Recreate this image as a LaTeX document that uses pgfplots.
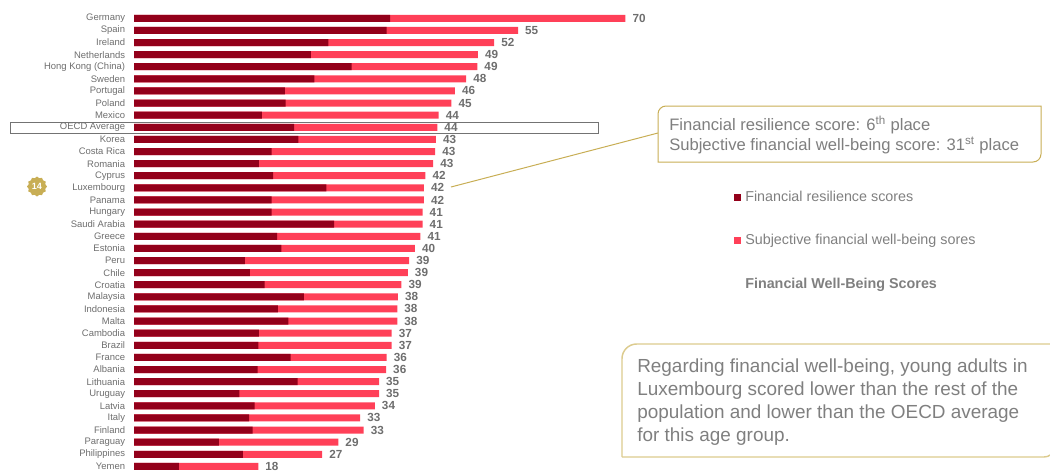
\documentclass[border=0pt]{standalone}
\usepackage{pgfplots}
\pgfplotsset{compat=1.18}
\usepackage{pgfplotstable}
\usepackage{fontspec}
\setmainfont{Liberation Sans}
\usetikzlibrary{shapes.geometric}

\definecolor{resil}{HTML}{93001A}
\definecolor{subj}{HTML}{FF4058}
\definecolor{txtgrey}{HTML}{7F7F7F}
\definecolor{labgrey}{HTML}{6E6E6E}
\definecolor{gold}{HTML}{C8AE55}
\definecolor{goldlight}{HTML}{DCCB8E}

\pgfplotstableread[col sep=comma]{
name,resil,subj,total
Germany,36.5,33.5,70
Spain,36.0,18.7,55
Ireland,27.7,23.6,52
Netherlands,25.2,23.8,49
Hong Kong (China),31.0,17.9,49
Sweden,25.7,21.6,48
Portugal,21.5,24.2,46
Poland,21.6,23.6,45
Mexico,18.2,25.2,44
OECD Average,22.8,20.4,44
Korea,23.4,19.6,43
Costa Rica,19.6,23.3,43
Romania,17.8,24.8,43
Cyprus,19.8,21.7,42
Luxembourg,27.4,13.9,42
Panama,19.6,21.7,42
Hungary,19.6,21.5,41
Saudi Arabia,28.5,12.6,41
Greece,20.4,20.4,41
Estonia,21.0,19.0,40
Peru,15.8,23.4,39
Chile,16.5,22.5,39
Croatia,18.6,19.5,39
Malaysia,24.2,13.4,38
Indonesia,20.5,17.0,38
Malta,22.0,15.5,38
Cambodia,17.8,18.9,37
Brazil,17.7,19.0,37
France,22.3,13.7,36
Albania,17.6,18.3,36
Lithuania,23.3,11.6,35
Uruguay,15.0,19.9,35
Latvia,17.2,17.1,34
Italy,16.4,15.8,33
Finland,16.9,15.8,33
Paraguay,12.1,17.0,29
Philippines,15.5,11.3,27
Yemen,6.4,11.3,18
}\scores

\begin{document}
% 1 unit = 1 reference pixel, origin top left
\begin{tikzpicture}[x=0.75pt,y=-0.75pt]
  \useasboundingbox (0,0) rectangle (1050,471);

  \begin{axis}[
    at={(100.5pt,-353.25pt)}, anchor=south west,
    scale only axis,
    width=687pt, height=353.25pt,
    xbar, bar shift=0pt,
    bar width=5.25pt,
    xmin=0, xmax=130.48,
    ymin=-1.51, ymax=37.38,
    y dir=reverse,
    hide x axis,
    axis y line*=left,
    y axis line style={draw=none},
    major tick length=0pt,
    ytick={0,...,37},
    yticklabels from table={\scores}{name},
    yticklabel style={anchor=east, inner sep=0pt, xshift=-6.5pt,
      font=\fontsize{7.1}{8}\selectfont, text=labgrey},
    clip=false,
  ]
    % light bar runs to the sum, dark one lies over its first part
    \addplot[fill=subj, draw=none,
      point meta=explicit symbolic,
      nodes near coords,
      nodes near coords align={horizontal},
      every node near coord/.append style={anchor=west, inner sep=0pt, xshift=5.2pt,
        font=\fontsize{8.8}{10}\selectfont\bfseries, text=labgrey},
    ] table[x expr=\thisrow{resil}+\thisrow{subj}, y expr=\coordindex, meta=total] {\scores};
    \addplot[fill=resil, draw=none] table[x=resil, y expr=\coordindex] {\scores};
  \end{axis}

  % OECD row frame
  \draw[draw=black!55, line width=0.75pt] (10,122.5) rectangle (598,133.5);

  % badge
  \node[star, star points=12, star point ratio=1.16, minimum size=15pt, inner sep=0pt,
    fill=gold, text=white, font=\fontsize{6.8}{8}\selectfont\bfseries] at (37,186.5) {14};

  % callout
  \draw[gold, line width=0.75pt] (451,187) -- (658,133);
  \draw[gold, line width=0.75pt, fill=white] (658,162) [rounded corners=6pt] -- (658,106)
    [sharp corners] -- (1041,106) [rounded corners=6pt] -- (1041,162) [sharp corners] -- cycle;
  \node[anchor=base west, inner sep=0pt, text=txtgrey, font=\fontsize{12.45}{15}\selectfont] at (669,130)
    {Financial resilience score: 6\textsuperscript{th} place};
  \node[anchor=base west, inner sep=0pt, text=txtgrey, font=\fontsize{12.45}{15}\selectfont] at (669,150)
    {Subjective financial well-being score: 31\textsuperscript{st} place};

  % legend
  \fill[resil] (734,193.5) rectangle (741,200.5);
  \fill[subj] (734,236.5) rectangle (741,243.5);
  \node[anchor=base west, inner sep=0pt, text=txtgrey, font=\fontsize{10.75}{12}\selectfont] at (745,201.5)
    {Financial resilience scores};
  \node[anchor=base west, inner sep=0pt, text=txtgrey, font=\fontsize{10.75}{12}\selectfont] at (745,244.5)
    {Subjective financial well-being sores};
  \node[anchor=base west, inner sep=0pt, text=txtgrey, font=\fontsize{10.75}{12}\selectfont\bfseries] at (745,288)
    {Financial Well-Being Scores};

  % note box, runs off the right edge
  \draw[goldlight, line width=1.1pt] (622,457) [rounded corners=11pt] -- (622,344)
    [sharp corners] -- (1050,344);
  \draw[goldlight, line width=1.1pt] (622,457) -- (1044,457)
    .. controls (1047,457) and (1049,456) .. (1050,455);
  \foreach \yy/\ll in {372/{Regarding financial well-being, young adults in},
                       395/{Luxembourg scored lower than the rest of the},
                       418/{population and lower than the OECD average},
                       441/{for this age group.}}
    \node[anchor=base west, inner sep=0pt, text=txtgrey, font=\fontsize{14.2}{16}\selectfont] at (637,\yy) {\ll};
\end{tikzpicture}
\end{document}
